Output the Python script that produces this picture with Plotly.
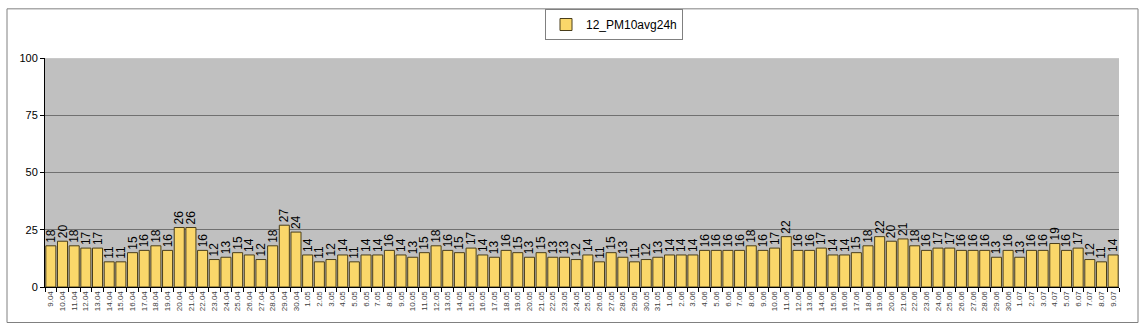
import plotly.graph_objects as go

# Daily PM10 24h averages, 9 April - 9 July
dates = (
    [f"{d}.04" for d in range(9, 31)]
    + [f"{d}.05" for d in range(1, 32)]
    + [f"{d}.06" for d in range(1, 31)]
    + [f"{d}.07" for d in range(1, 10)]
)

pm10_april = [18, 20, 18, 17, 17, 11, 11, 15, 16, 18, 16, 26, 26, 16, 12, 13, 15, 14, 12, 18, 27, 24]
pm10_may = [14, 11, 12, 14, 11, 14, 14, 16, 14, 13, 15, 18, 16, 15, 17, 14, 13, 16, 15, 13,
            15, 13, 13, 12, 14, 11, 15, 13, 11, 12, 13]
pm10_june = [14, 14, 14, 16, 16, 16, 16, 18, 16, 17, 22, 16, 16, 17, 14, 14, 15, 18, 22, 20,
             21, 18, 16, 17, 17, 16, 16, 16, 13, 16]
pm10_july = [13, 16, 16, 19, 16, 17, 12, 11, 14]

pm10 = pm10_april + pm10_may + pm10_june + pm10_july

series_name = "12_PM10avg24h"
y_ticks = [0, 25, 50, 75, 100]

W, H = 1146, 335
ML, MR, MT, MB = 45, 27, 55, 48
FONT = "Liberation Sans, Arial, sans-serif"

fig = go.Figure(
    go.Bar(
        x=dates,
        y=pm10,
        name=series_name,
        marker=dict(color="#FAD76A", line=dict(color="#4A3E1A", width=1)),
        text=pm10,
        texttemplate="%{text}",
        textposition="outside",
        textangle=-90,
        constraintext="none",
        cliponaxis=False,
        textfont=dict(family=FONT, size=12, color="#000000"),
        showlegend=True,
    )
)

# outer chart frame, expressed in paper units of the plot area
pw, ph = W - ML - MR, H - MT - MB


def px_x(x):
    return (x - ML) / pw


def px_y(y):
    return (H - MB - y) / ph


fig.add_shape(
    type="rect", xref="paper", yref="paper",
    x0=px_x(7), x1=px_x(1138), y0=px_y(323), y1=px_y(5),
    line=dict(color="#808080", width=1), fillcolor="rgba(0,0,0,0)", layer="below",
)

fig.update_layout(
    width=W,
    height=H,
    margin=dict(l=ML, r=MR, t=MT, b=MB),
    paper_bgcolor="#FFFFFF",
    plot_bgcolor="#C0C0C0",
    font=dict(family=FONT, size=11, color="#000000"),
    bargap=0.14,
    legend=dict(
        xref="container", yref="container",
        x=614 / W, y=1 - 9 / H, xanchor="center", yanchor="top",
        orientation="h",
        bgcolor="#FFFFFF", bordercolor="#808080", borderwidth=1,
        font=dict(family=FONT, size=12, color="#000000"),
        itemwidth=30,
    ),
    xaxis=dict(
        type="category",
        tickson="boundaries",
        ticks="outside",
        ticklen=4,
        tickcolor="#000000",
        showline=True,
        linecolor="#000000",
        linewidth=1,
        showgrid=False,
        tickangle=-90,
        tickfont=dict(family=FONT, size=8, color="#404040"),
    ),
    yaxis=dict(
        range=[0, 100],
        tickvals=y_ticks,
        ticks="outside",
        ticklen=4,
        tickcolor="#000000",
        showline=True,
        linecolor="#000000",
        linewidth=1,
        showgrid=True,
        gridcolor="#707070",
        gridwidth=1,
        zeroline=False,
        tickfont=dict(family=FONT, size=11, color="#000000"),
    ),
)

fig.write_html("out.html")
